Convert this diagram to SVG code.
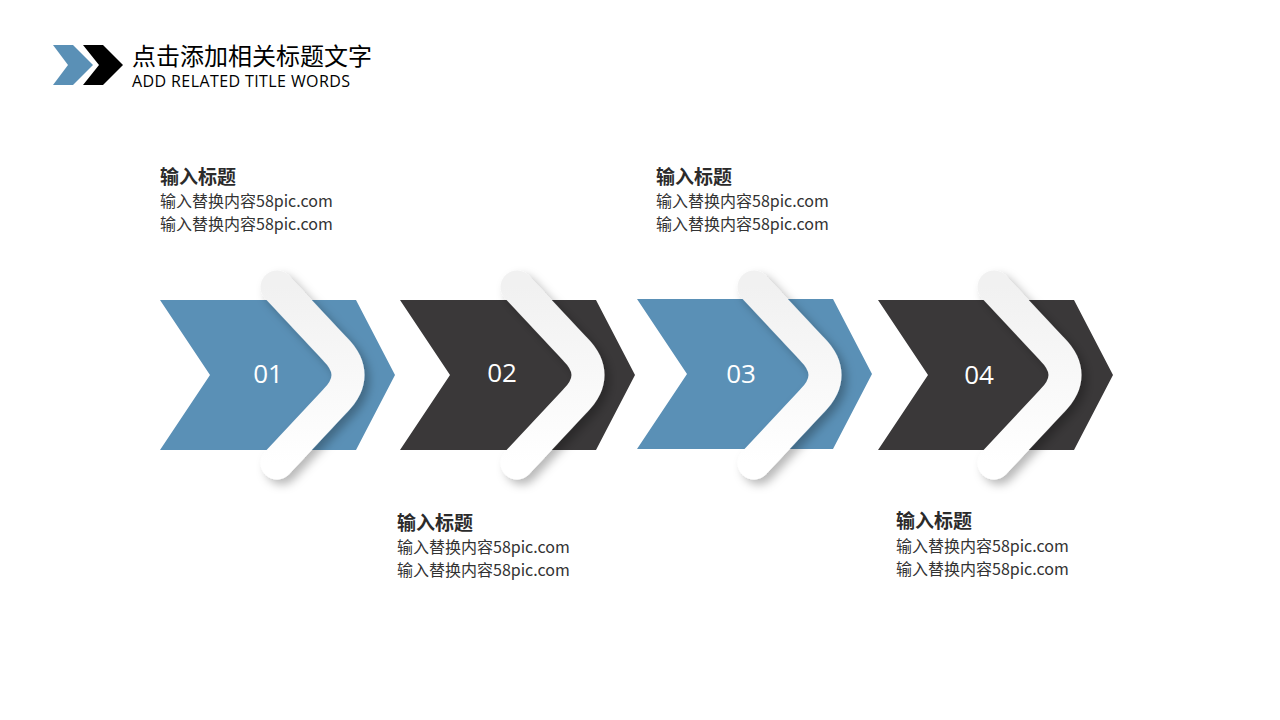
<svg xmlns="http://www.w3.org/2000/svg" width="1280" height="720" viewBox="0 0 1280 720">
<defs>
<style>
.blue{fill:#5a90b6}
.dark{fill:#3a3839}
.num{font-family:"Open Sans","Noto Sans CJK SC",sans-serif;font-size:26px;fill:#ffffff;text-anchor:middle;dominant-baseline:central}
.t{font-family:"Noto Sans CJK SC",sans-serif;font-size:19px;font-weight:bold;fill:#2b2b2b}
.d{font-family:"Noto Sans CJK SC",sans-serif;font-size:16px;fill:#333333}
.boom{fill:none;stroke:url(#bg);stroke-width:33;stroke-linecap:round;stroke-linejoin:round;filter:url(#sh)}
</style>
<linearGradient id="bg" gradientUnits="userSpaceOnUse" x1="0" y1="0" x2="0" y2="176">
<stop offset="0" stop-color="#f1f1f1"/>
<stop offset="1" stop-color="#ffffff"/>
</linearGradient>
<filter id="sh" x="-50%" y="-30%" width="200%" height="160%">
<feDropShadow dx="5" dy="5" stdDeviation="5" flood-color="#000" flood-opacity="0.28"/>
</filter>
<path id="bm" d="M 0 0 L 58 62 Q 84 88 58 114 L 0 176"/>
</defs>
<rect width="1280" height="720" fill="#ffffff"/>
<g id="header">
<polygon class="blue" points="53,45 73,45 93,65 73,85 53,85 68,65"/>
<polygon fill="#000" points="83,45 103,45 123,65 103,85 83,85 99,65"/>
<text x="132" y="65" font-family="Noto Sans CJK SC,sans-serif" font-size="24" fill="#000">点击添加相关标题文字</text>
<text x="132" y="87" font-family="Open Sans,Noto Sans CJK SC,sans-serif" font-size="16" fill="#000" textLength="218" lengthAdjust="spacing">ADD RELATED TITLE WORDS</text>
</g>
<g id="step1">
<polygon class="blue" points="160,300 356,300 395,375 356,450 160,450 210,375"/>
<use href="#bm" class="boom" transform="translate(277,287)"/>
<text class="num" x="268" y="373">01</text>
</g>
<g id="step2">
<polygon class="dark" points="400,300 596,300 635,375 596,450 400,450 450,375"/>
<use href="#bm" class="boom" transform="translate(517,287)"/>
<text class="num" x="502" y="372">02</text>
</g>
<g id="step3">
<polygon class="blue" points="637,299 833,299 872,374 833,449 637,449 687,374"/>
<use href="#bm" class="boom" transform="translate(754,287)"/>
<text class="num" x="741" y="373">03</text>
</g>
<g id="step4">
<polygon class="dark" points="878,300 1074,300 1113,375 1074,450 878,450 928,375"/>
<use href="#bm" class="boom" transform="translate(994,287)"/>
<text class="num" x="979" y="374">04</text>
</g>
<g id="text1">
<text class="t" x="160" y="184">输入标题</text>
<text class="d" x="160" y="207">输入替换内容58pic.com</text>
<text class="d" x="160" y="230">输入替换内容58pic.com</text>
</g>
<g id="text2">
<text class="t" x="397" y="530">输入标题</text>
<text class="d" x="397" y="553">输入替换内容58pic.com</text>
<text class="d" x="397" y="576">输入替换内容58pic.com</text>
</g>
<g id="text3">
<text class="t" x="656" y="184">输入标题</text>
<text class="d" x="656" y="207">输入替换内容58pic.com</text>
<text class="d" x="656" y="230">输入替换内容58pic.com</text>
</g>
<g id="text4">
<text class="t" x="896" y="528">输入标题</text>
<text class="d" x="896" y="552">输入替换内容58pic.com</text>
<text class="d" x="896" y="575">输入替换内容58pic.com</text>
</g>
<g id="connectors"/>
</svg>
